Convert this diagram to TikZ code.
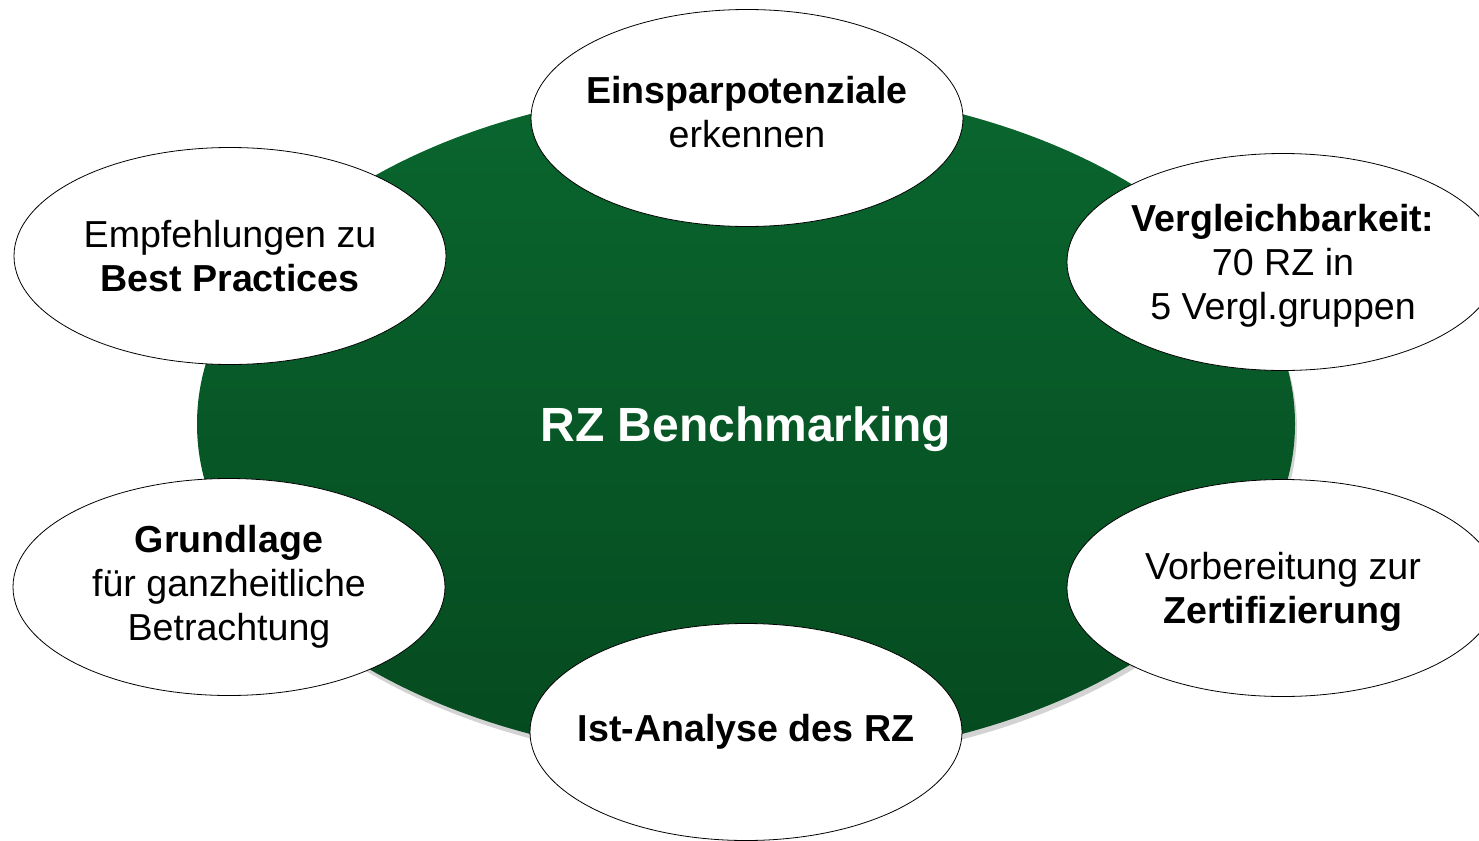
\documentclass[tikz,border=0pt]{standalone}
\usepackage{fontspec}
\setmainfont{Liberation Sans}
\usetikzlibrary{shapes.geometric,shadows}
\definecolor{rztop}{RGB}{10,102,46}
\definecolor{rzbottom}{RGB}{5,74,31}

\begin{document}
\begin{tikzpicture}
[   x=0.5pt,y=-0.5pt,
    hub/.style={ellipse,minimum width=549pt,minimum height=337pt,inner sep=0pt,top color=rztop,bottom color=rzbottom,
        drop shadow={shadow xshift=1pt,shadow yshift=-2.5pt,opacity=0.35},text=white,text depth=0pt,
        font=\fontsize{24}{29}\selectfont\bfseries},
    goal/.style={ellipse,draw,thin,fill=white,minimum width=216pt,minimum height=108.5pt,inner ysep=0pt,inner xsep=-25pt,
        align=center,font=\fontsize{18.8}{22}\selectfont}
]
    \useasboundingbox (0,0) rectangle (1479,841);
    \node[hub] (RZ) at (746,424) {RZ Benchmarking};
    \node[goal,text depth=6pt] (E) at (747,118) {\textbf{Einsparpotenziale}\\erkennen};
    \node[goal] (B) at (230,256) {Empfehlungen zu\\\textbf{Best Practices}};
    \node[goal,text depth=0pt] (V) at (1283,262) {\textbf{Vergleichbarkeit:}\\70 RZ in\\5 Vergl.gruppen};
    \node[goal] (G) at (229,587) {\textbf{Grundlage}\\für ganzheitliche\\Betrachtung};
    \node[goal,text depth=0pt] (Z) at (1283,588) {Vorbereitung zur\\\textbf{Zertifizierung}};
    \node[goal] (I) at (746,732) {\textbf{Ist-Analyse des RZ}};
\end{tikzpicture}
\end{document}
